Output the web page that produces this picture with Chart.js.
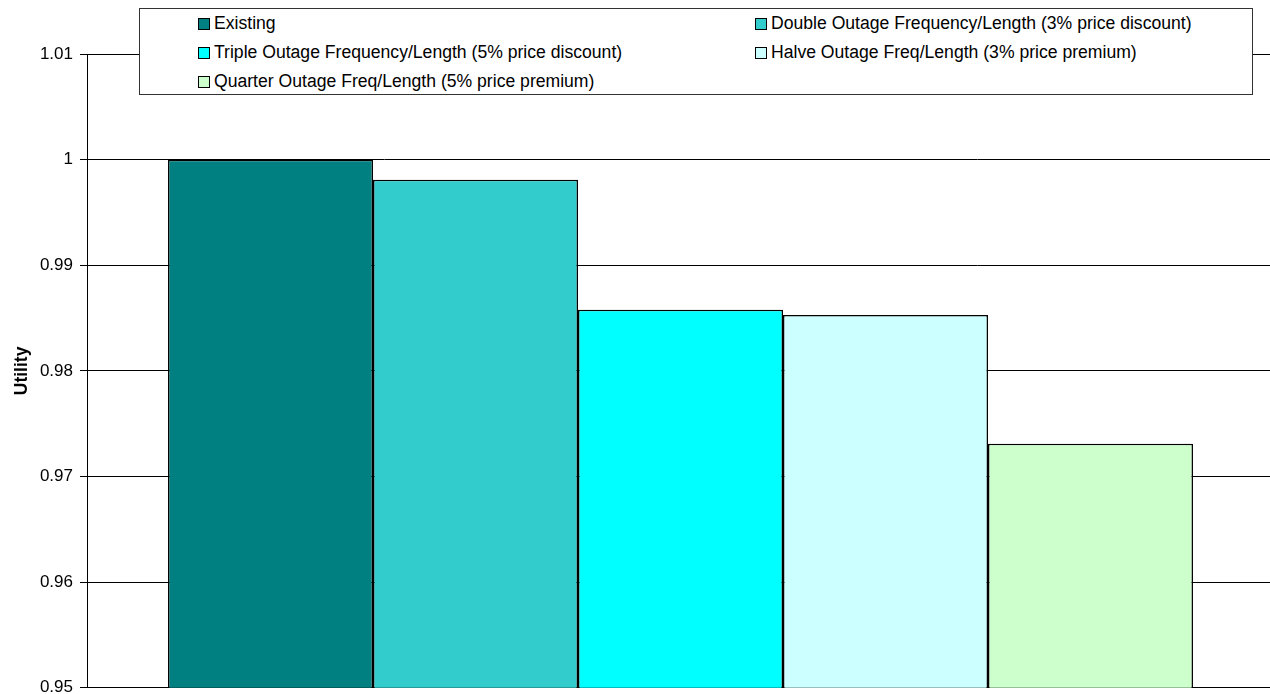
<!DOCTYPE html>
<html>
<head>
<meta charset="utf-8">
<script src="https://cdn.jsdelivr.net/npm/chart.js@4"></script>
<style>
  html, body { margin: 0; padding: 0; background: #fff; overflow: hidden; }
  #wrap { position: relative; width: 1274px; height: 694px; overflow: hidden; }
  #legend {
    position: absolute; left: 139px; top: 8px; width: 1112px; height: 85px;
    border: 1px solid #333; background: #fff;
    font-family: "Liberation Sans", Arial, sans-serif; font-size: 17.6px; color: #000;
  }
  .item { position: absolute; white-space: nowrap; line-height: 20px; }
  .box { display: inline-block; width: 10px; height: 10px; border: 1px solid #000; margin-right: 4px; vertical-align: -1px; }
</style>
</head>
<body>
<div id="wrap">
  <canvas id="chart" width="1274" height="705"></canvas>
  <div id="legend"></div>
</div>
<script>
// ====== Data ======
const CATEGORIES = [''];
const SERIES_NAMES = [
  'Existing',
  'Double Outage Frequency/Length (3% price discount)',
  'Triple Outage Frequency/Length (5% price discount)',
  'Halve Outage Freq/Length (3% price premium)',
  'Quarter Outage Freq/Length (5% price premium)'
];
const UTILITY = [1.0, 0.9981, 0.9858, 0.9853, 0.9731];
const COLORS = ['#008080', '#33CCCC', '#00FFFF', '#CCFFFF', '#CCFFCC'];
const Y_TICKS = [0.95, 0.96, 0.97, 0.98, 0.99, 1.0, 1.01];

const FONT = '"Liberation Sans", Arial, sans-serif';

// ====== Legend (two columns, Excel style) ======
function buildLegend() {
  const legend = document.getElementById('legend');
  SERIES_NAMES.forEach((name, i) => {
    const col = i % 2, row = Math.floor(i / 2);
    const el = document.createElement('div');
    el.className = 'item';
    el.style.left = (col ? 615 : 58) + 'px';
    el.style.top = (4 + row * 29) + 'px';
    el.innerHTML = `<span class="box" style="background:${COLORS[i]}"></span>${name}`;
    legend.appendChild(el);
  });
}

// ====== Chart ======
const datasets = SERIES_NAMES.map((name, i) => ({
  label: name,
  data: [UTILITY[i]],
  backgroundColor: COLORS[i],
  borderColor: '#000',
  borderWidth: 1.5,
  borderSkipped: false,
  barPercentage: 1,
  categoryPercentage: 0.8635
}));

new Chart(document.getElementById('chart'), {
  type: 'bar',
  data: { labels: CATEGORIES, datasets },
  options: {
    responsive: false,
    animation: false,
    layout: { padding: { top: 54, bottom: 7, left: 0, right: 0 } },
    plugins: { legend: { display: false }, tooltip: { enabled: false } },
    scales: {
      x: {
        grid: { display: false },
        ticks: { display: false },
        border: { display: true, color: '#000', width: 1 },
        afterFit: s => { s.height = 0; }
      },
      y: {
        min: Y_TICKS[0],
        max: Y_TICKS[Y_TICKS.length - 1],
        afterBuildTicks: s => { s.ticks = Y_TICKS.map(v => ({ value: v })); },
        afterFit: s => { s.width = 87; },
        grid: { color: '#000', lineWidth: 1, tickLength: 7 },
        border: { color: '#000', width: 1 },
        ticks: {
          padding: 7,
          color: '#000',
          font: { family: FONT, size: 17 },
          callback: v => String(parseFloat(v.toFixed(2)))
        },
        title: {
          display: true,
          text: 'Utility',
          color: '#000',
          padding: { top: 12, bottom: 0 },
          font: { family: FONT, size: 17.5, weight: 'bold' }
        }
      }
    }
  }
});

buildLegend();
</script>
</body>
</html>
